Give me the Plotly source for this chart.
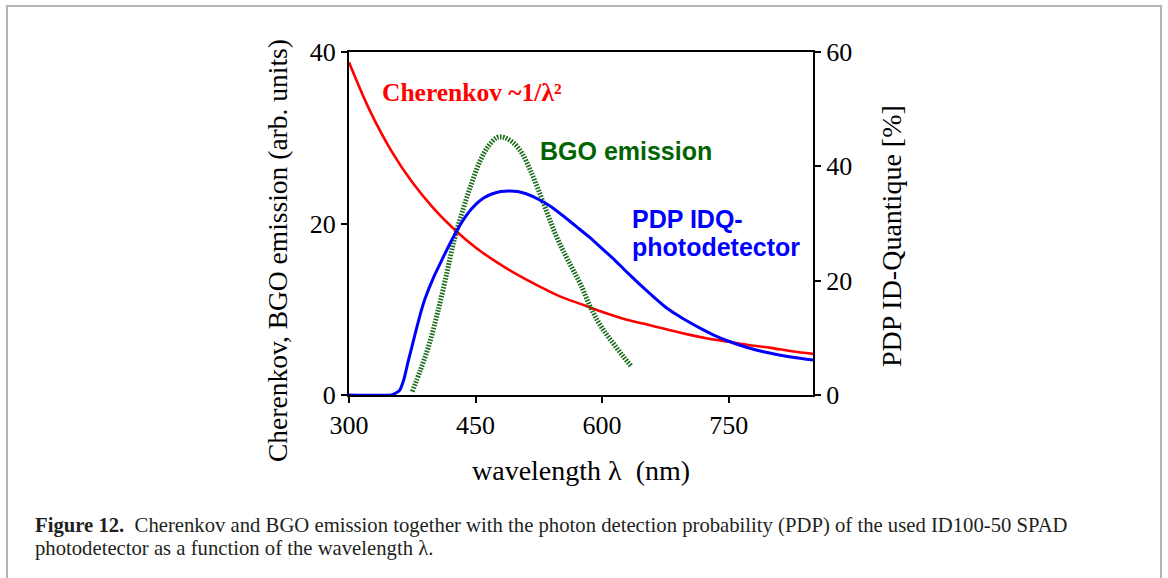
import plotly.graph_objects as go

# ---- data ----
wl_ch = [300, 325, 350, 375, 400, 425, 450, 475, 500, 525, 550, 575, 600,
         625, 650, 675, 700, 725, 750, 775, 800, 825, 850]
cherenkov = [38.8, 33.1, 28.5, 24.8, 21.8, 19.3, 17.2, 15.5, 14.0, 12.7, 11.5,
             10.6, 9.7, 8.9, 8.3, 7.7, 7.1, 6.6, 6.2, 5.8, 5.5, 5.1, 4.8]

wl_bgo = [375, 385, 395, 405, 415, 425, 435, 445, 455, 465, 475, 480, 485, 495,
          505, 515, 525, 535, 545, 555, 565, 575, 585, 595, 605, 615, 625, 635]
bgo = [0.4, 3.0, 5.9, 9.6, 13.8, 18.2, 21.6, 24.6, 27.2, 29.0, 30.0, 30.1, 30.0,
       29.4, 28.2, 26.2, 23.8, 21.2, 18.7, 16.6, 14.7, 12.8, 10.5, 8.6, 7.1,
       5.8, 4.5, 3.3]

wl_pdp = [300, 350, 355, 360, 365, 370, 375, 380, 385, 390, 400, 410, 420, 430,
          440, 450, 460, 470, 480, 490, 500, 510, 525, 540, 555, 570, 585, 600,
          615, 630, 645, 660, 675, 690, 705, 720, 735, 750, 770, 790, 810, 830, 850]
pdp = [0.0, 0.0, 0.3, 0.8, 2.7, 5.8, 8.7, 11.6, 14.4, 16.8, 20.5, 23.6, 26.6,
       29.3, 31.6, 33.3, 34.5, 35.2, 35.6, 35.7, 35.6, 35.2, 34.2, 32.9, 31.2,
       29.4, 27.6, 25.6, 23.6, 21.4, 19.3, 17.3, 15.4, 13.9, 12.6, 11.4, 10.3,
       9.4, 8.4, 7.6, 7.0, 6.5, 6.1]

x_ticks = [300, 450, 600, 750]
y_ticks = [0, 20, 40]
y2_ticks = [0, 20, 40, 60]

x_title = "wavelength \u03bb  (nm)"
y_title = "Cherenkov, BGO emission (arb. units)"
y2_title = "PDP ID-Quantique [%]"
caption1 = ("<b>Figure 12.</b>  Cherenkov and BGO emission together with the photon "
            "detection probability (PDP) of the used ID100-50 SPAD")
caption2 = "photodetector as a function of the wavelength \u03bb."

# ---- geometry ----
W, H = 1168, 578
L, R, T, B = 349, 813, 52, 395


def px(x):
    return (x - L) / (R - L)


def py(y):
    return (B - y) / (B - T)


SERIF = "Liberation Serif"
SANS = "Liberation Sans"

fig = go.Figure()
fig.add_trace(go.Scatter(x=wl_ch, y=cherenkov, mode="lines",
                         line=dict(color="#ff0000", width=2.6, shape="spline"),
                         yaxis="y"))
fig.add_trace(go.Scatter(x=wl_pdp, y=pdp, mode="lines",
                         line=dict(color="#0000ff", width=3, shape="spline", smoothing=0.5),
                         yaxis="y2"))
fig.add_trace(go.Scatter(x=wl_bgo, y=bgo, mode="lines",
                         line=dict(color="#1a6b1a", width=5, dash="1.6px,1.4px",
                                   shape="spline"),
                         yaxis="y"))

axis_common = dict(showgrid=False, zeroline=False, showline=True, linecolor="black",
                   linewidth=2, ticks="outside", ticklen=6, tickwidth=2,
                   tickcolor="black",
                   tickfont=dict(family=SERIF, size=26, color="black"))

fig.update_layout(
    width=W, height=H,
    margin=dict(l=L, r=W - R, t=T, b=H - B),
    paper_bgcolor="white", plot_bgcolor="white",
    showlegend=False,
    xaxis=dict(range=[300, 850], tickvals=x_ticks, mirror=True, **axis_common),
    yaxis=dict(range=[0, 40], tickvals=y_ticks, **axis_common),
    yaxis2=dict(range=[0, 60], tickvals=y2_ticks, overlaying="y", side="right",
                **axis_common),
)

ann = []
# axis titles
ann.append(dict(x=px(581), y=py(470), text=x_title, showarrow=False,
                font=dict(family=SERIF, size=28, color="black"),
                xanchor="center", yanchor="middle"))
ann.append(dict(x=px(277), y=py(251), text=y_title, showarrow=False, textangle=-90,
                font=dict(family=SERIF, size=27.5, color="black"),
                xanchor="center", yanchor="middle"))
ann.append(dict(x=px(891), y=py(236), text=y2_title, showarrow=False, textangle=-90,
                font=dict(family=SERIF, size=28, color="black"),
                xanchor="center", yanchor="middle"))
# curve labels
ann.append(dict(x=px(380), y=py(92), text="<b>Cherenkov ~1/\u03bb\u00b2</b>", showarrow=False,
                font=dict(family=SERIF, size=25.5, color="#ff0000"),
                xanchor="left", yanchor="middle"))
ann.append(dict(x=px(538), y=py(150.5), text="<b>BGO emission</b>", showarrow=False,
                font=dict(family=SANS, size=25, color="#006400"),
                xanchor="left", yanchor="middle"))
ann.append(dict(x=px(630), y=py(219), text="<b>PDP IDQ-</b>", showarrow=False,
                font=dict(family=SANS, size=25, color="#0000ff"),
                xanchor="left", yanchor="middle"))
ann.append(dict(x=px(630), y=py(246.5), text="<b>photodetector</b>", showarrow=False,
                font=dict(family=SANS, size=25, color="#0000ff"),
                xanchor="left", yanchor="middle"))
# caption
ann.append(dict(x=px(33), y=py(525), text=caption1, showarrow=False,
                font=dict(family=SERIF, size=20.7, color="#231f20"),
                xanchor="left", yanchor="middle"))
ann.append(dict(x=px(33), y=py(548), text=caption2, showarrow=False,
                font=dict(family=SERIF, size=20.7, color="#231f20"),
                xanchor="left", yanchor="middle"))
for a in ann:
    a.update(xref="paper", yref="paper")
fig.update_layout(annotations=ann)

# outer frame
fig.add_shape(type="rect", xref="paper", yref="paper",
              x0=px(7), x1=px(1161), y0=py(600), y1=py(6),
              line=dict(color="#b4b4b4", width=2), fillcolor="rgba(0,0,0,0)",
              layer="below")

fig.write_html("out.html")
